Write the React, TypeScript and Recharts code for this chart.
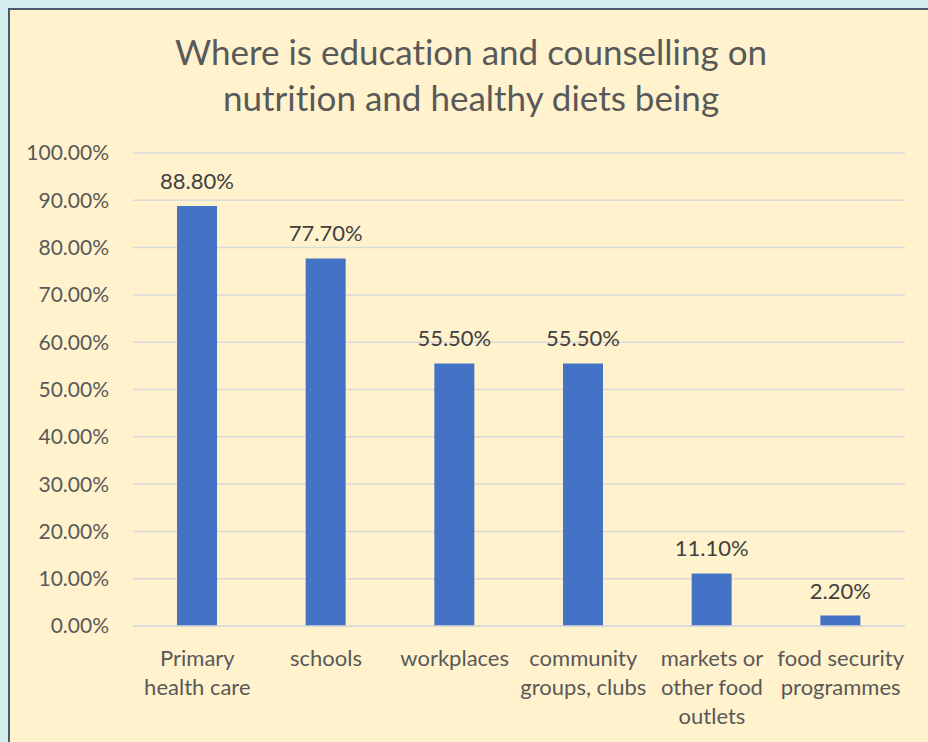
import React from "react";
import { BarChart, Bar, XAxis, YAxis, CartesianGrid, LabelList } from "recharts";

const categories = [
  "Primary\nhealth care",
  "schools",
  "workplaces",
  "community\ngroups, clubs",
  "markets or\nother food\noutlets",
  "food security\nprogrammes",
];
const values = [0.888, 0.777, 0.555, 0.555, 0.111, 0.022];
const yTicks = [0, 0.1, 0.2, 0.3, 0.4, 0.5, 0.6, 0.7, 0.8, 0.9, 1.0];
const titleLines = ["Where is education and counselling on", "nutrition and healthy diets being"];

const data = categories.map((c, i) => ({ name: c, value: values[i] }));

const FONT = "Lato, 'Open Sans', sans-serif";
const TEXT = "#595959";
const NOLIG: React.CSSProperties = { fontVariantLigatures: "none", fontFeatureSettings: "'liga' 0, 'clig' 0" } as any;

const pct = (v: number) => (v * 100).toFixed(2) + "%";

const XTick = (props: any) => {
  const { x, y, payload } = props;
  const lines = String(payload.value).split("\n");
  return (
    <g transform={`translate(${x},${y})`}>
      {lines.map((l, i) => (
        <text
          key={i}
          x={0}
          y={32 + i * 29}
          textAnchor="middle"
          fill={TEXT}
          fontSize={22}
          fontFamily={FONT}
          style={NOLIG}
        >
          {l}
        </text>
      ))}
    </g>
  );
};

export default function App() {
  return (
    <div style={{ position: "absolute", left: 0, top: 0, width: 928, height: 742, background: "#D3EDEF", overflow: "hidden" }}>
      <div
        style={{
          position: "absolute",
          left: 8,
          top: 8,
          width: 930,
          height: 744,
          background: "#FFF2CC",
          borderLeft: "2px solid #4A5A6E",
          borderTop: "2px solid #4A5A6E",
        }}
      />
      {titleLines.map((t, i) => (
        <div
          key={i}
          style={{
            position: "absolute",
            left: 0,
            width: 942,
            top: 29 + i * 46,
            textAlign: "center",
            fontFamily: FONT,
            fontSize: 35,
            lineHeight: "44px",
            color: TEXT,
            ...NOLIG,
          }}
        >
          {t}
        </div>
      ))}
      <div style={{ position: "absolute", left: 0, top: 0 }}>
        <BarChart
          width={928}
          height={742}
          data={data}
          margin={{ top: 153, right: 23, left: 0, bottom: 0 }}
        >
          <CartesianGrid vertical={false} stroke="#D9D9D9" strokeWidth={1.5} />
          <XAxis
            dataKey="name"
            axisLine={{ stroke: "#D9D9D9", strokeWidth: 1.5 }}
            tickLine={false}
            height={116}
            interval={0}
            tick={<XTick />}
          />
          <YAxis
            width={133}
            domain={[0, 1]}
            ticks={yTicks}
            axisLine={false}
            tickLine={false}
            tickFormatter={pct}
            tick={{ fill: TEXT, fontSize: 21, fontFamily: FONT, dx: -16 }}
          />
          <Bar dataKey="value" fill="#4472C4" barSize={40} isAnimationActive={false}>
            <LabelList
              dataKey="value"
              position="top"
              offset={17}
              formatter={(v: any) => pct(Number(v))}
              style={{ fill: "#404040", fontSize: 22, fontFamily: FONT }}
            />
          </Bar>
        </BarChart>
      </div>
    </div>
  );
}
